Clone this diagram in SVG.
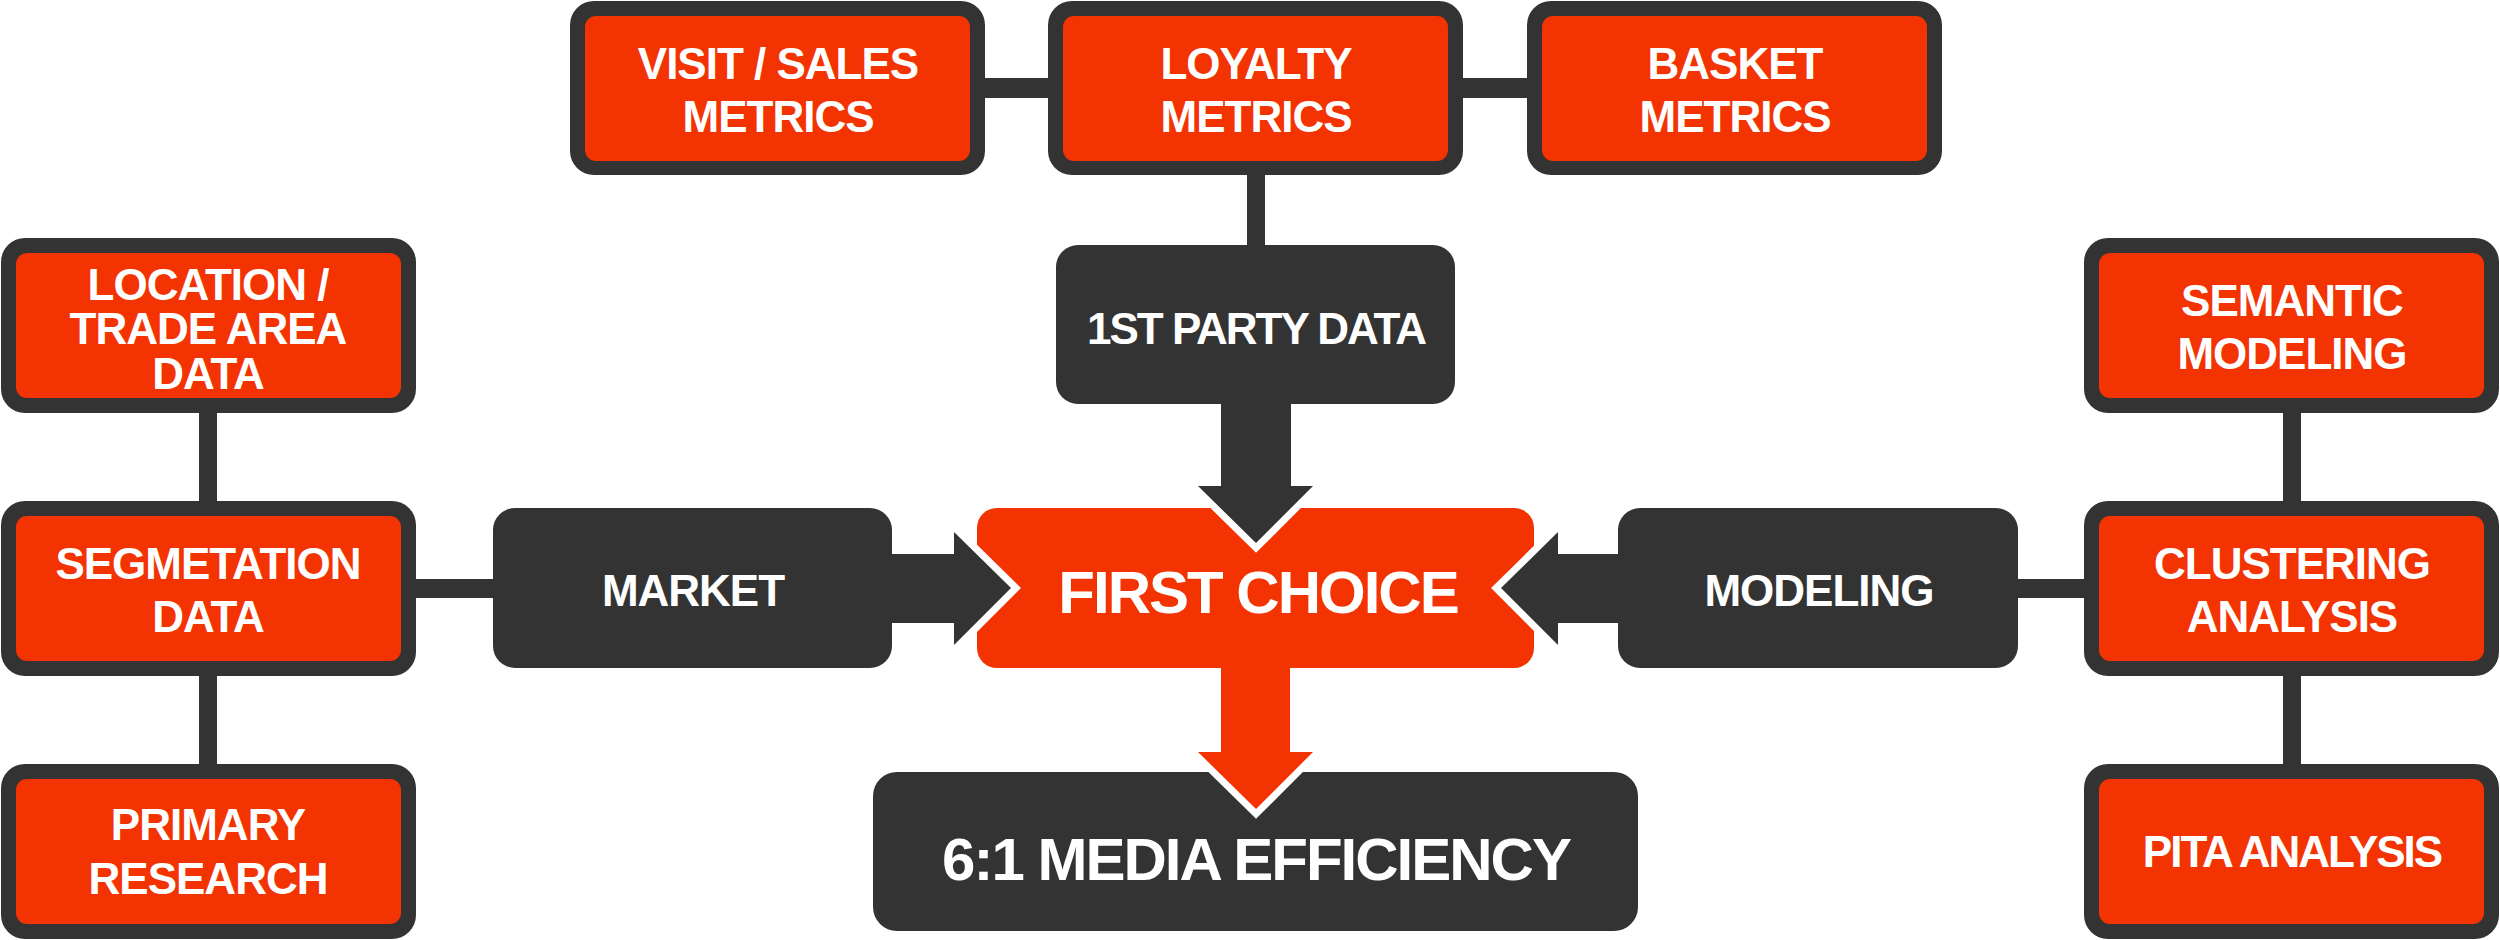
<svg xmlns="http://www.w3.org/2000/svg" width="2500" height="940" viewBox="0 0 2500 940">
<style>
.frame{fill:#333333}
.inner{fill:#F33302}
.dark{fill:#333333}
.red{fill:#F33302}
.t{font-family:"Liberation Sans",Arial,sans-serif;font-weight:bold;fill:#FFFFFF;font-size:44px;text-anchor:middle;letter-spacing:-1px}
.big{font-size:60px;letter-spacing:-2px}
.tight{letter-spacing:-2px}
.head{stroke:#FFFFFF;stroke-width:14;paint-order:stroke;stroke-linejoin:miter}
</style>
<rect width="2500" height="940" fill="#FFFFFF"/>

<g id="visit-sales-metrics">
<rect class="frame" x="570" y="1" width="415" height="174" rx="24"/>
<rect class="inner" x="585" y="16" width="385" height="145" rx="11"/>
<text class="t" x="778" y="79">VISIT / SALES</text>
<text class="t" x="778" y="132">METRICS</text>
</g>
<g id="loyalty-metrics">
<rect class="frame" x="1048" y="1" width="415" height="174" rx="24"/>
<rect class="inner" x="1063" y="16" width="385" height="145" rx="11"/>
<text class="t" x="1256" y="79">LOYALTY</text>
<text class="t" x="1256" y="132">METRICS</text>
</g>
<g id="basket-metrics">
<rect class="frame" x="1527" y="1" width="415" height="174" rx="24"/>
<rect class="inner" x="1542" y="16" width="385" height="145" rx="11"/>
<text class="t" x="1735" y="79">BASKET</text>
<text class="t" x="1735" y="132">METRICS</text>
</g>

<g id="location-trade-area-data">
<rect class="frame" x="1" y="238" width="415" height="175" rx="24"/>
<rect class="inner" x="16" y="253" width="385" height="145" rx="11"/>
<text class="t" x="208" y="300">LOCATION /</text>
<text class="t" x="208" y="344">TRADE AREA</text>
<text class="t" x="208" y="389">DATA</text>
</g>
<g id="segmetation-data">
<rect class="frame" x="1" y="501" width="415" height="175" rx="24"/>
<rect class="inner" x="16" y="516" width="385" height="145" rx="11"/>
<text class="t" x="208" y="579">SEGMETATION</text>
<text class="t" x="208" y="632">DATA</text>
</g>
<g id="primary-research">
<rect class="frame" x="1" y="764" width="415" height="175" rx="24"/>
<rect class="inner" x="16" y="779" width="385" height="145" rx="11"/>
<text class="t" x="208" y="840">PRIMARY</text>
<text class="t" x="208" y="894">RESEARCH</text>
</g>

<g id="semantic-modeling">
<rect class="frame" x="2084" y="238" width="415" height="175" rx="24"/>
<rect class="inner" x="2099" y="253" width="385" height="145" rx="11"/>
<text class="t" x="2292" y="316">SEMANTIC</text>
<text class="t" x="2292" y="369">MODELING</text>
</g>
<g id="clustering-analysis">
<rect class="frame" x="2084" y="501" width="415" height="175" rx="24"/>
<rect class="inner" x="2099" y="516" width="385" height="145" rx="11"/>
<text class="t" x="2292" y="579">CLUSTERING</text>
<text class="t" x="2292" y="632">ANALYSIS</text>
</g>
<g id="pita-analysis">
<rect class="frame" x="2084" y="764" width="415" height="175" rx="24"/>
<rect class="inner" x="2099" y="779" width="385" height="145" rx="11"/>
<text class="t tight" x="2292" y="867">PITA ANALYSIS</text>
</g>

<g id="first-party-data">
<rect class="dark" x="1056" y="245" width="399" height="159" rx="22"/>
<text class="t tight" x="1256" y="344">1ST PARTY DATA</text>
</g>
<g id="market">
<rect class="dark" x="493" y="508" width="399" height="160" rx="22"/>
<text class="t" x="693" y="606">MARKET</text>
</g>
<g id="modeling">
<rect class="dark" x="1618" y="508" width="400" height="160" rx="22"/>
<text class="t" x="1819" y="606">MODELING</text>
</g>
<g id="first-choice">
<rect class="red" x="977" y="508" width="557" height="160" rx="20"/>
<text class="t big" x="1258" y="613">FIRST CHOICE</text>
</g>
<g id="media-efficiency">
<rect class="dark" x="873" y="772" width="765" height="159" rx="24"/>
<text class="t big" x="1256" y="880">6:1 MEDIA EFFICIENCY</text>
</g>

<g id="connectors">
<rect class="dark" x="985" y="78" width="63" height="20"/>
<rect class="dark" x="1463" y="78" width="64" height="20"/>
<rect class="dark" x="1247" y="175" width="18" height="70"/>
<rect class="dark" x="199" y="413" width="18" height="88"/>
<rect class="dark" x="199" y="676" width="18" height="88"/>
<rect class="dark" x="416" y="579" width="77" height="19"/>
<rect class="dark" x="2283" y="413" width="18" height="88"/>
<rect class="dark" x="2283" y="676" width="18" height="88"/>
<rect class="dark" x="2018" y="579" width="66" height="19"/>
<g id="arrow-first-party">
<polygon class="dark head" points="1198,486 1313,486 1256,543"/>
<rect class="dark" x="1221" y="404" width="70" height="86"/>
</g>
<g id="arrow-market">
<polygon class="dark head" points="954,532 954,645 1011,588"/>
<rect class="dark" x="892" y="554" width="66" height="69"/>
</g>
<g id="arrow-modeling">
<polygon class="dark head" points="1558,532 1558,645 1501,588"/>
<rect class="dark" x="1554" y="554" width="64" height="69"/>
</g>
<g id="arrow-result">
<polygon class="red head" points="1198,752 1313,752 1256,809"/>
<rect class="red" x="1221" y="668" width="69" height="88"/>
</g>
</g>
</svg>
